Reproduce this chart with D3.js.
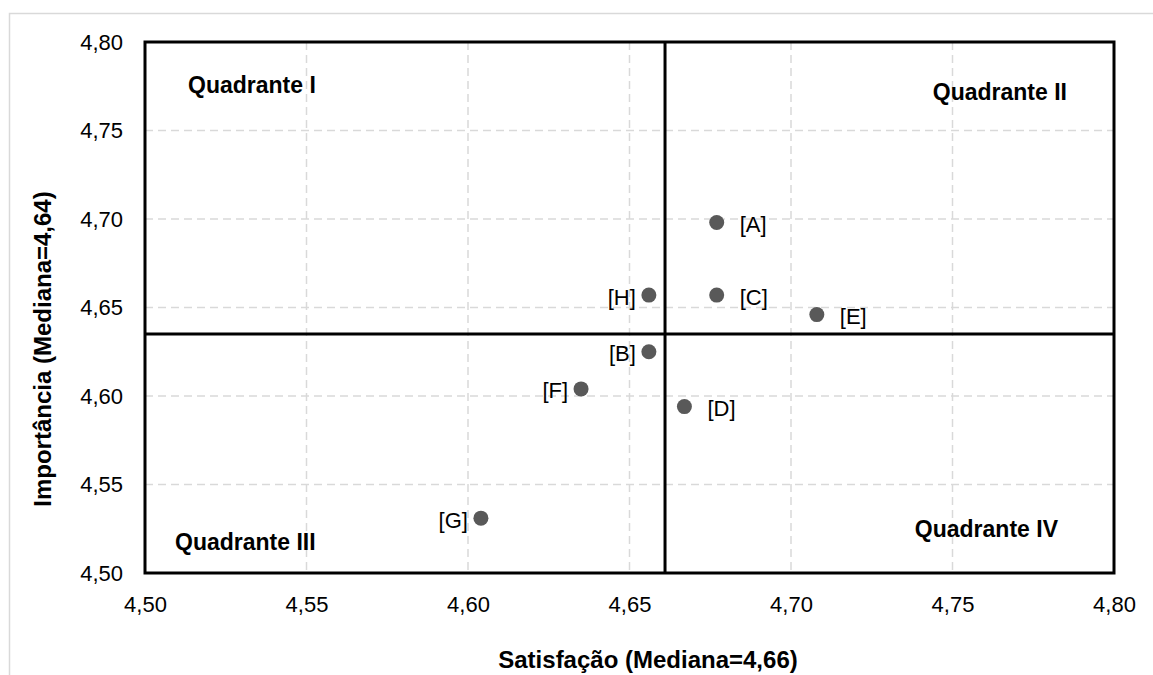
<!DOCTYPE html>
<html>
<head>
<meta charset="utf-8">
<script src="https://cdn.jsdelivr.net/npm/d3@7"></script>
<style>
  html, body { margin: 0; padding: 0; background: #fff; }
  svg { display: block; font-family: "Liberation Sans", Arial, sans-serif; }
</style>
</head>
<body>
<svg id="chart" width="1153" height="675"></svg>
<script>
// ---- data ----
const labels       = ["[A]", "[B]", "[C]", "[D]", "[E]", "[F]", "[G]", "[H]"];
const satisfacao   = [4.677, 4.656, 4.677, 4.667, 4.708, 4.635, 4.604, 4.656];
const importancia  = [4.698, 4.625, 4.657, 4.594, 4.646, 4.604, 4.531, 4.657];
const medianSatisfacao  = 4.661;
const medianImportancia = 4.635;
const xTicks = [4.50, 4.55, 4.60, 4.65, 4.70, 4.75, 4.80];
const yTicks = [4.50, 4.55, 4.60, 4.65, 4.70, 4.75, 4.80];
const quadrantNames = ["Quadrante I", "Quadrante II", "Quadrante III", "Quadrante IV"];
const xTitle = "Satisfação (Mediana=4,66)";
const yTitle = "Importância (Mediana=4,64)";

// ---- layout ----
const svg = d3.select("#chart");
const pLeft = 145, pRight = 1114, pTop = 42, pBottom = 573;
const x = d3.scaleLinear().domain([4.50, 4.80]).range([pLeft, pRight]);
const y = d3.scaleLinear().domain([4.50, 4.80]).range([pBottom, pTop]);
const fmt = v => d3.format(".2f")(v).replace(".", ",");

// outer frame
svg.append("rect").attr("x", 9.5).attr("y", 13.5).attr("width", 1160).attr("height", 700)
  .attr("fill", "none").attr("stroke", "#d9d9d9").attr("stroke-width", 1.5);

// gridlines
const grid = svg.append("g").attr("stroke", "#d9d9d9").attr("stroke-width", 1.5).attr("stroke-dasharray", "8,5");
grid.selectAll("line.gx").data(xTicks.slice(1, -1)).join("line").attr("class", "gx")
  .attr("x1", d => x(d)).attr("x2", d => x(d)).attr("y1", pTop).attr("y2", pBottom);
grid.selectAll("line.gy").data(yTicks.slice(1, -1)).join("line").attr("class", "gy")
  .attr("y1", d => y(d)).attr("y2", d => y(d)).attr("x1", pLeft).attr("x2", pRight);

// axes
const xAxis = svg.append("g").attr("transform", `translate(0,${pBottom})`)
  .call(d3.axisBottom(x).tickValues(xTicks).tickFormat(fmt).tickSize(0).tickPadding(23));
const yAxis = svg.append("g").attr("transform", `translate(${pLeft},0)`)
  .call(d3.axisLeft(y).tickValues(yTicks).tickFormat(fmt).tickSize(0).tickPadding(22));
[xAxis, yAxis].forEach(a => {
  a.select(".domain").remove();
  a.selectAll("text").attr("font-size", 22).attr("fill", "#000")
    .attr("font-family", "'Liberation Sans', Arial, sans-serif");
});

// plot border
svg.append("rect").attr("x", pLeft).attr("y", pTop).attr("width", pRight - pLeft).attr("height", pBottom - pTop)
  .attr("fill", "none").attr("stroke", "#000").attr("stroke-width", 3);

// median lines
svg.append("line").attr("x1", x(medianSatisfacao)).attr("x2", x(medianSatisfacao))
  .attr("y1", pTop).attr("y2", pBottom).attr("stroke", "#000").attr("stroke-width", 3);
svg.append("line").attr("x1", pLeft).attr("x2", pRight)
  .attr("y1", y(medianImportancia)).attr("y2", y(medianImportancia)).attr("stroke", "#000").attr("stroke-width", 3);

// points
const pts = labels.map((l, i) => ({ l, sx: satisfacao[i], iy: importancia[i] }));
svg.selectAll("circle.pt").data(pts).join("circle").attr("class", "pt")
  .attr("cx", d => x(d.sx)).attr("cy", d => y(d.iy)).attr("r", 7.5).attr("fill", "#595959");
svg.selectAll("text.pl").data(pts).join("text").attr("class", "pl")
  .attr("x", d => d.sx < medianSatisfacao ? x(d.sx) - 13 : x(d.sx) + 23)
  .attr("y", d => y(d.iy) + 2)
  .attr("text-anchor", d => d.sx < medianSatisfacao ? "end" : "start")
  .attr("dominant-baseline", "central")
  .attr("font-size", 22).attr("fill", "#000").text(d => d.l);

// quadrant labels
const q = svg.append("g").attr("font-size", 23).attr("font-weight", "bold").attr("fill", "#000");
q.append("text").attr("x", 188).attr("y", 93).text(quadrantNames[0]);
q.append("text").attr("x", 1067).attr("y", 100).attr("text-anchor", "end").text(quadrantNames[1]);
q.append("text").attr("x", 175).attr("y", 550).text(quadrantNames[2]);
q.append("text").attr("x", 1058).attr("y", 537).attr("text-anchor", "end").text(quadrantNames[3]);

// axis titles
svg.append("text").attr("x", 648).attr("y", 668).attr("text-anchor", "middle")
  .attr("font-size", 24).attr("font-weight", "bold").text(xTitle);
svg.append("text").attr("transform", "translate(51,349) rotate(-90)").attr("text-anchor", "middle")
  .attr("font-size", 24).attr("font-weight", "bold").text(yTitle);
</script>
</body>
</html>
